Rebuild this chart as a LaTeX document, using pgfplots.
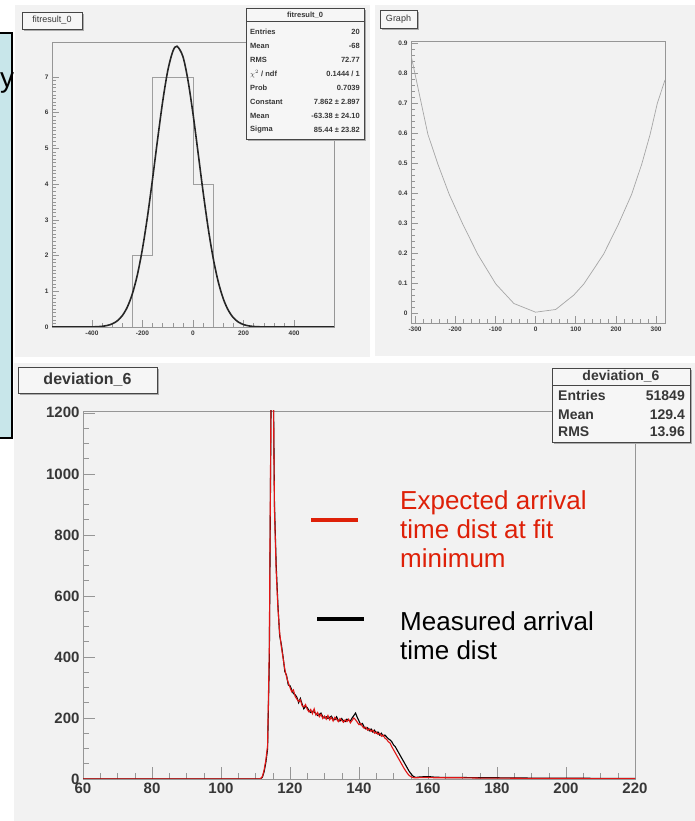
\documentclass[border=0pt]{standalone}
\usepackage{fontspec}
\setmainfont{Liberation Sans}
\usepackage{pgfplots}
\pgfplotsset{compat=1.18}

\definecolor{canvas}{RGB}{242,242,242}
\definecolor{slideblue}{RGB}{200,230,234}
\definecolor{framegray}{RGB}{150,150,150}
\definecolor{labelgray}{RGB}{55,55,55}
\definecolor{fitred}{RGB}{222,32,8}
\definecolor{histred}{RGB}{225,22,22}
\definecolor{boxfill}{RGB}{246,246,246}

\pgfplotsset{
  rootframe/.style={
    scale only axis, anchor=south west,
    axis line style={draw=framegray, line width=0.8pt},
    tick align=inside, tick pos=left,
    major tick style={draw=framegray, line width=0.6pt},
    minor tick style={draw=framegray, line width=0.5pt},
  },
  smallpanel/.style={
    rootframe,
    major tick length=7pt, minor tick length=3.5pt,
    tick label style={font=\fontsize{6.5}{7}\selectfont\bfseries, text=labelgray},
  },
}

% ROOT style boxes with a drop shadow
\newcommand{\panelbox}[4]{%
  \fill[gray!65] ({#1pt+2pt},{#2pt-2pt}) rectangle ({#3pt+2pt},{#4pt-2pt});
  \filldraw[fill=boxfill, draw=gray!55!black, line width=0.7pt] (#1pt,#2pt) rectangle (#3pt,#4pt);
}

\begin{document}
\begin{tikzpicture}
\useasboundingbox (0pt,0pt) rectangle (695pt,821pt);
\clip (0pt,0pt) rectangle (695pt,821pt);
\fill[white] (0pt,0pt) rectangle (695pt,821pt);

% slide text box behind the canvases
\filldraw[fill=slideblue, draw=black, line width=1.2pt] (-5pt,383pt) rectangle (12pt,788pt);
\node[anchor=base west, inner sep=0pt, font=\fontsize{28}{30}\selectfont] at (0pt,733pt) {y};

% canvases
\fill[canvas] (15pt,464pt) rectangle (370pt,816pt);
\fill[canvas] (375pt,465pt) rectangle (695pt,816pt);
\fill[canvas] (14pt,0pt) rectangle (695pt,458pt);

% ---------- fitresult_0 ----------
\begin{axis}[smallpanel, at={(52pt,494pt)}, width=282pt, height=285pt,
  xmin=-558, xmax=558, ymin=0, ymax=7.98,
  xtick={-400,-200,0,200,400}, xticklabels={-400,-200,0,200,400},
  ytick={0,1,2,3,4,5,6,7}, yticklabels={0,1,2,3,4,5,6,7},
  minor x tick num=4, minor y tick num=9]
\addplot[draw=gray!75, line width=0.6pt, mark=none] coordinates {
  (-558,0) (-240,0) (-240,2) (-160,2) (-160,7) (-80,7) (0,7) (0,4) (80,4) (80,0) (558,0)};
\addplot[draw=gray!30!black, line width=1.6pt, mark=none, smooth] coordinates {
  (-558,0) (-440,0.0003) (-400,0.0034) (-380,0.0082) (-360,0.019) (-340,0.0416) (-320,0.0864)
  (-300,0.170) (-280,0.316) (-260,0.556) (-240,0.928) (-220,1.465) (-200,2.190)
  (-180,3.098) (-160,4.148) (-140,5.259) (-120,6.312) (-100,7.172) (-80,7.715)
  (-63.38,7.862) (-40,7.574) (-20,6.911) (0,5.971) (20,4.884) (40,3.782) (60,2.771)
  (80,1.923) (100,1.263) (120,0.786) (140,0.463) (160,0.258) (180,0.136) (200,0.0679)
  (220,0.0321) (240,0.0144) (260,0.0061) (280,0.0024) (300,0.0009) (340,0.0001) (558,0)};
\end{axis}

% ---------- Graph ----------
\begin{axis}[smallpanel, at={(411pt,498pt)}, width=254pt, height=282pt,
  xmin=-310, xmax=322, ymin=-0.033, ymax=0.907,
  xtick={-300,-200,-100,0,100,200,300}, xticklabels={-300,-200,-100,0,100,200,300},
  ytick={0,0.1,0.2,0.3,0.4,0.5,0.6,0.7,0.8,0.9},
  yticklabels={0,0.1,0.2,0.3,0.4,0.5,0.6,0.7,0.8,0.9},
  minor x tick num=4, minor y tick num=4]
\addplot[draw=gray!70, line width=0.7pt, mark=none] coordinates {
  (-310,0.86) (-268,0.596) (-243,0.496) (-215,0.396) (-181,0.296) (-144,0.196)
  (-99,0.097) (-54,0.032) (0,0.003) (50,0.012) (95,0.06) (120,0.097) (169,0.196)
  (206,0.296) (239,0.396) (264,0.496) (285,0.596) (303,0.70) (322,0.777)};
\end{axis}

% ---------- deviation_6 ----------
\begin{axis}[rootframe, at={(83pt,42pt)}, width=552pt, height=368pt,
  xmin=60, xmax=220, ymin=0, ymax=1206,
  xtick={60,80,100,120,140,160,180,200,220},
  xticklabels={60,80,100,120,140,160,180,200,220},
  ytick={0,200,400,600,800,1000,1200},
  yticklabels={0,200,400,600,800,1000,1200},
  minor x tick num=3, minor y tick num=3,
  major tick length=12pt, minor tick length=6pt,
  tick label style={font=\fontsize{15}{15}\selectfont\bfseries, text=labelgray}]
% measured arrival time distribution
\addplot[draw=black, line width=1.1pt, mark=none] table {
60 0
111 0
111.5 1
112 6
112.5 24
113 54
113.5 98
114 380
114.5 1220
115 1500
115.5 900
116 700
116.5 570
117 470
117.5 440
118 400
118.5 352
119 340
119.5 308
120 306
120.5 292
121 280
121.5 276
122 268
122.5 250
123 264
123.5 246
124 230
124.5 238
125 234
125.5 224
126 218
126.5 222
127 220
127.5 214
128 208
128.5 212
129 216
129.5 204
130 200
130.5 204
131 198
131.5 202
132 206
132.5 196
133 194
133.5 204
134 192
134.5 190
135 198
135.5 190
136 188
136.5 196
137 192
137.5 190
138 200
138.5 208
139 216
139.5 202
140 190
140.5 178
141 182
141.5 170
142 164
142.5 168
143 158
143.5 164
144 154
144.5 160
145 150
145.5 154
146 144
146.5 150
147 140
147.5 144
148 138
148.5 132
149 128
149.5 122
150 112
150.5 106
151 96
151.5 86
152 76
152.5 66
153 56
153.5 46
154 36
154.5 26
155 18
155.5 11
156 7
156.5 5
157 6
158 7
160 8
162 6
165 5
170 5
175 4
180 4
190 3
200 3
210 2
220 2
};
% expected arrival time distribution at the fit minimum
\addplot[draw=histred, line width=1.1pt, mark=none] table {
60 0
111 0
111.5 2
112 8
112.5 30
113 62
113.5 110
114 430
114.5 1260
115 1480
115.5 880
116 680
116.5 560
117 480
117.5 432
118 396
118.5 360
119 334
119.5 316
120 300
120.5 286
121 292
121.5 270
122 262
122.5 254
123 260
123.5 240
124 236
124.5 244
125 228
125.5 220
126 228
126.5 214
127 230
127.5 210
128 218
128.5 204
129 212
129.5 198
130 206
130.5 196
131 208
131.5 194
132 202
132.5 190
133 202
133.5 196
134 188
134.5 198
135 192
135.5 186
136 194
136.5 188
137 196
137.5 184
138 192
138.5 200
139 194
139.5 186
140 178
140.5 182
141 172
141.5 166
142 170
142.5 160
143 164
143.5 156
144 160
144.5 150
145 154
145.5 146
146 150
146.5 140
147 144
147.5 134
148 130
148.5 122
149 118
149.5 106
150 96
150.5 86
151 76
151.5 66
152 56
152.5 46
153 36
153.5 27
154 19
154.5 12
155 8
155.5 5
156 4
157 4
158 5
160 5
162 4
165 4
170 4
175 3
180 3
190 2
200 2
210 1
220 1
};
\end{axis}

% ---------- title boxes ----------
\panelbox{22}{792}{82}{809}
\node[font=\fontsize{9}{9}\selectfont, text=labelgray] at (52pt,800.5pt) {fitresult\_0};
\panelbox{380}{793}{417}{811}
\node[font=\fontsize{9}{9}\selectfont, text=labelgray] at (398.5pt,802pt) {Graph};
\panelbox{18}{428}{157}{454}
\node[font=\fontsize{16}{16}\selectfont\bfseries, text=labelgray] at (87.5pt,441pt) {deviation\_6};

% ---------- fit statistics ----------
\panelbox{246}{682}{364}{813}
\draw[gray!55!black, line width=0.5pt] (246pt,800pt) -- (364pt,800pt);
\begin{scope}[every node/.style={font=\fontsize{7.5}{8}\selectfont\bfseries, text=labelgray, inner sep=0pt}]
\node at (305pt,806pt) {fitresult\_0};
\node[anchor=west] at (250pt,789pt) {Entries};   \node[anchor=east] at (360pt,789pt) {20};
\node[anchor=west] at (250pt,775pt) {Mean};      \node[anchor=east] at (360pt,775pt) {-68};
\node[anchor=west] at (250pt,761pt) {RMS};       \node[anchor=east] at (360pt,761pt) {72.77};
\node[anchor=west] at (250pt,747pt) {$\chi^2$ / ndf}; \node[anchor=east] at (360pt,747pt) {0.1444 / 1};
\node[anchor=west] at (250pt,733pt) {Prob};      \node[anchor=east] at (360pt,733pt) {0.7039};
\node[anchor=west] at (250pt,719pt) {Constant};  \node[anchor=east] at (360pt,719pt) {7.862 ± 2.897};
\node[anchor=west] at (250pt,705pt) {Mean};      \node[anchor=east] at (360pt,705pt) {-63.38 ± 24.10};
\node[anchor=west] at (250pt,691pt) {Sigma};     \node[anchor=east] at (360pt,691pt) {85.44 ± 23.82};
\end{scope}

% ---------- histogram statistics ----------
\panelbox{552}{379}{690}{453}
\draw[gray!55!black, line width=0.6pt] (552pt,436pt) -- (690pt,436pt);
\begin{scope}[every node/.style={font=\fontsize{14}{14}\selectfont\bfseries, text=labelgray, inner sep=0pt}]
\node at (621pt,445pt) {deviation\_6};
\node[anchor=base west] at (558pt,420pt) {Entries}; \node[anchor=base east] at (685pt,420pt) {51849};
\node[anchor=base west] at (558pt,401pt) {Mean};    \node[anchor=base east] at (685pt,401pt) {129.4};
\node[anchor=base west] at (558pt,384pt) {RMS};     \node[anchor=base east] at (685pt,384pt) {13.96};
\end{scope}

% ---------- key ----------
\draw[fitred, line width=4pt] (311pt,301pt) -- (358pt,301pt);
\draw[black, line width=4pt] (317pt,202pt) -- (364pt,202pt);
\begin{scope}[every node/.style={font=\fontsize{26}{29}\selectfont, anchor=base west, inner sep=0pt}]
\node[text=fitred] at (400pt,311pt) {Expected arrival};
\node[text=fitred] at (400pt,282pt) {time dist at fit};
\node[text=fitred] at (400pt,253pt) {minimum};
\node at (400pt,190pt) {Measured arrival};
\node at (400pt,161pt) {time dist};
\end{scope}
\end{tikzpicture}
\end{document}
